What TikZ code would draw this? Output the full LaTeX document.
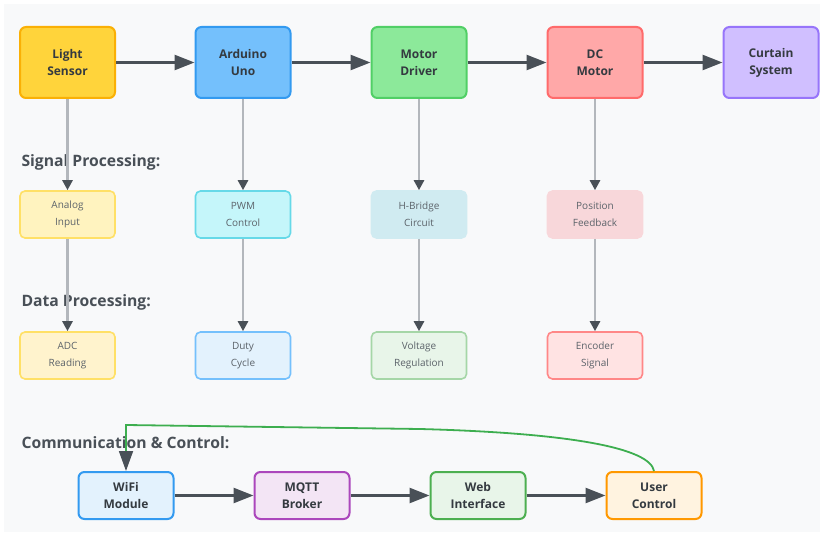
\documentclass[tikz,border=0pt]{standalone}
\usepackage{fontspec}
\setmainfont{Open Sans}
\usetikzlibrary{arrows.meta}
\definecolor{bgpanel}{HTML}{F8F9FA}
\definecolor{darkline}{HTML}{495057}
\definecolor{greyline}{HTML}{B3B7BC}
\definecolor{txt}{HTML}{343A40}
\definecolor{subtxt}{HTML}{5C636A}
\definecolor{greenline}{HTML}{3DAE4F}
\definecolor{lsF}{HTML}{FFD43B}\definecolor{lsD}{HTML}{FAB005}
\definecolor{arF}{HTML}{74C0FC}\definecolor{arD}{HTML}{339AF0}
\definecolor{mdF}{HTML}{8CE99A}\definecolor{mdD}{HTML}{51CF66}
\definecolor{dcF}{HTML}{FFA8A8}\definecolor{dcD}{HTML}{FF6B6B}
\definecolor{csF}{HTML}{D0BFFF}\definecolor{csD}{HTML}{9775FA}
\definecolor{aiF}{HTML}{FFF3BF}\definecolor{aiD}{HTML}{FFE066}
\definecolor{pwF}{HTML}{C5F6FA}\definecolor{pwD}{HTML}{66D9E8}
\definecolor{hbF}{HTML}{D0EBF1}\definecolor{hbD}{HTML}{D0EBF1}
\definecolor{pfF}{HTML}{F8D7DA}\definecolor{pfD}{HTML}{F8D7DA}
\definecolor{adF}{HTML}{FFF3CD}\definecolor{adD}{HTML}{FFE066}
\definecolor{duF}{HTML}{E3F2FD}\definecolor{duD}{HTML}{74C0FC}
\definecolor{vrF}{HTML}{E8F5E9}\definecolor{vrD}{HTML}{A5D6A7}
\definecolor{enF}{HTML}{FFE3E3}\definecolor{enD}{HTML}{FF8787}
\definecolor{wiF}{HTML}{E3F2FD}\definecolor{wiD}{HTML}{339AF0}
\definecolor{mqF}{HTML}{F3E5F5}\definecolor{mqD}{HTML}{AB47BC}
\definecolor{weF}{HTML}{E8F5E9}\definecolor{weD}{HTML}{4CAF50}
\definecolor{usF}{HTML}{FFF3E0}\definecolor{usD}{HTML}{FF9800}
\tikzset{
  x=1pt, y=-1pt,
  mainbox/.style={draw, line width=2pt, rounded corners=6pt, minimum width=95pt, minimum height=71pt, align=center, font=\fontsize{12}{17}\selectfont\bfseries, text=txt},
  subbox/.style={draw, line width=1.6pt, rounded corners=5pt, minimum width=95pt, minimum height=47pt, align=center, font=\fontsize{10}{17}\selectfont, text=subtxt},
  commbox/.style={draw, line width=2pt, rounded corners=6pt, minimum width=95pt, minimum height=47pt, align=center, font=\fontsize{12}{17}\selectfont\bfseries, text=txt},
  section/.style={anchor=west, font=\fontsize{15.7}{18}\selectfont\bfseries, text=darkline},
  bigarrow/.style={draw=darkline, line width=2.5pt, -{Triangle[length=20pt,width=15pt]}},
  thinarrow/.style={draw=greyline, line width=2.5pt, -{Triangle[length=10pt,width=10pt,color=darkline]}},
}
\begin{document}
\begin{tikzpicture}
\useasboundingbox (0,0) rectangle (822,534);
\fill[white] (0,0) rectangle (822,534);
\fill[bgpanel] (4,4) rectangle (820,532);

% section labels
\node[section] (lsig) at (18,162) {Signal Processing:};
\node[section] (ldat) at (18,302) {Data Processing:};
\node[section] (lcom) at (18,443) {Communication \& Control:};

% top row
\node[mainbox, fill=lsF, draw=lsD] (ls) at (67.5,62.5) {Light\\Sensor};
\node[mainbox, fill=arF, draw=arD] (ard) at (243,62.5) {Arduino\\Uno};
\node[mainbox, fill=mdF, draw=mdD] (md) at (419,62.5) {Motor\\Driver};
\node[mainbox, fill=dcF, draw=dcD] (dc) at (595,62.5) {DC\\Motor};
\node[mainbox, fill=csF, draw=csD] (cs) at (771,62.5) {Curtain\\System};

% second row
\node[subbox, fill=aiF, draw=aiD] (ai) at (67.5,214.5) {Analog\\Input};
\node[subbox, fill=pwF, draw=pwD] (pwm) at (243,214.5) {PWM\\Control};
\node[subbox, fill=hbF, draw=hbD] (hb) at (419,214.5) {H-Bridge\\Circuit};
\node[subbox, fill=pfF, draw=pfD] (pf) at (595,214.5) {Position\\Feedback};

% third row
\node[subbox, fill=adF, draw=adD] (adc) at (67.5,355.5) {ADC\\Reading};
\node[subbox, fill=duF, draw=duD] (duty) at (243,355.5) {Duty\\Cycle};
\node[subbox, fill=vrF, draw=vrD] (vr) at (419,355.5) {Voltage\\Regulation};
\node[subbox, fill=enF, draw=enD] (enc) at (595,355.5) {Encoder\\Signal};

% bottom row
\node[commbox, fill=wiF, draw=wiD] (wifi) at (126,495.5) {WiFi\\Module};
\node[commbox, fill=mqF, draw=mqD] (mqtt) at (302,495.5) {MQTT\\Broker};
\node[commbox, fill=weF, draw=weD] (web) at (478,495.5) {Web\\Interface};
\node[commbox, fill=usF, draw=usD] (user) at (654,495.5) {User\\Control};

% top arrows
\draw[bigarrow] (ls) -- (ard);
\draw[bigarrow] (ard) -- (md);
\draw[bigarrow] (md) -- (dc);
\draw[bigarrow] (dc) -- (cs);

% vertical arrows
\draw[thinarrow] (ls) -- (ai);
\draw[thinarrow] (ai) -- (adc);
\draw[thinarrow] (ard) -- (pwm);
\draw[thinarrow] (pwm) -- (duty);
\draw[thinarrow] (md) -- (hb);
\draw[thinarrow] (hb) -- (vr);
\draw[thinarrow] (dc) -- (pf);
\draw[thinarrow] (pf) -- (enc);

% bottom arrows
\draw[bigarrow] (wifi) -- (mqtt);
\draw[bigarrow] (mqtt) -- (web);
\draw[bigarrow] (web) -- (user);

% feedback curve
\coordinate (bend) at (126,425);
\draw[greenline, line width=1.8pt, -{Triangle[length=20pt,width=14pt,color=darkline]}]
  (user.north) .. controls (650,448) and (570,433) .. (420,429) -- (bend) -- (wifi.north);
\end{tikzpicture}
\end{document}
